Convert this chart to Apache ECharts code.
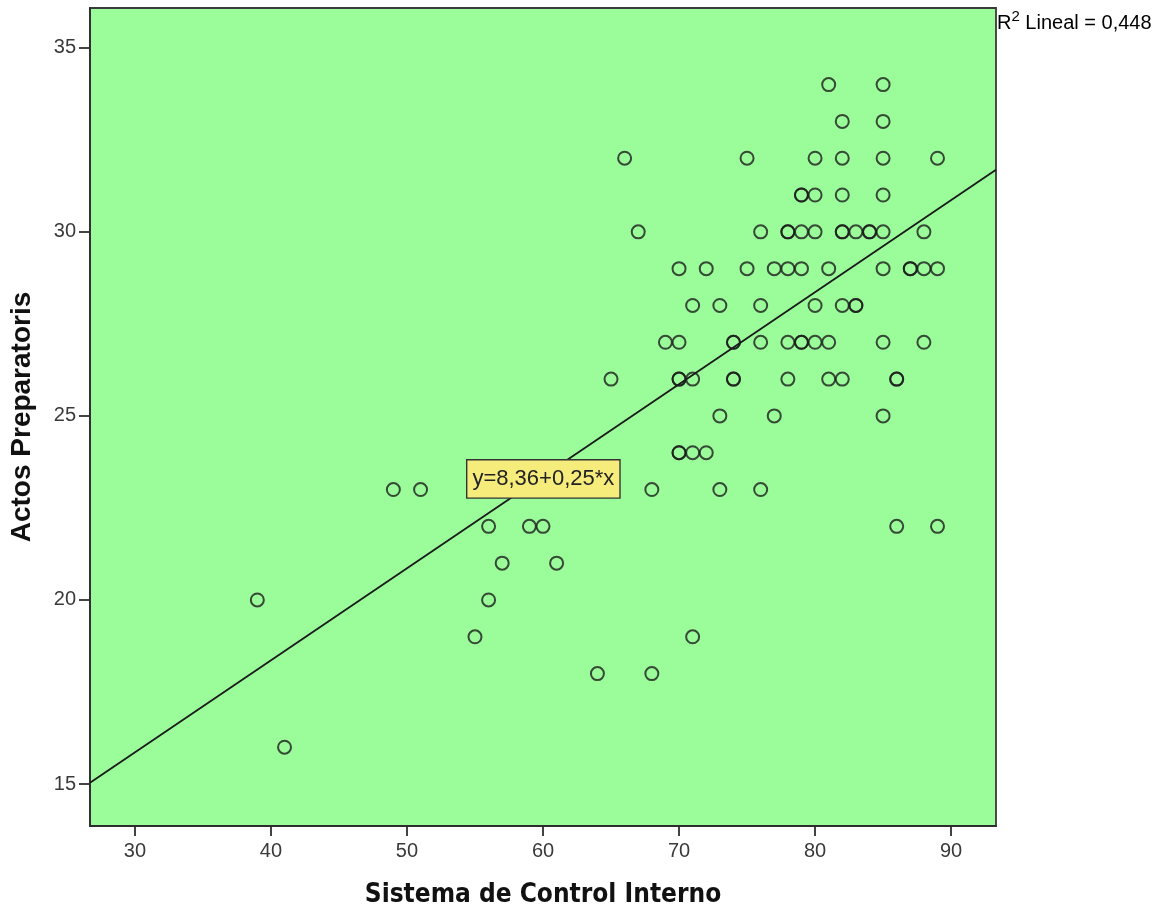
<!DOCTYPE html>
<html>
<head>
<meta charset="utf-8">
<title>Actos Preparatoris vs Sistema de Control Interno</title>
<script src="https://cdn.jsdelivr.net/npm/echarts@6/dist/echarts.min.js"></script>
<style>
  html, body { margin: 0; padding: 0; background: #ffffff; }
  #chart { width: 1163px; height: 913px; }
</style>
</head>
<body>
<div id="chart"></div>
<script>
// Observations: Sistema de Control Interno (x) and Actos Preparatoris (y)
const controlInterno = [
  81, 85,
  82, 85,
  66, 75, 80, 82, 85, 89,
  79, 79, 80, 82, 85,
  67, 76, 78, 78, 79, 80, 82, 82, 83, 84, 84, 85, 88,
  70, 72, 75, 77, 78, 79, 81, 85, 87, 87, 88, 89,
  71, 73, 76, 80, 82, 83, 83,
  69, 70, 74, 74, 76, 78, 79, 79, 80, 81, 85, 88,
  65, 70, 70, 71, 74, 74, 78, 81, 82, 86, 86,
  73, 77, 85,
  70, 70, 71, 72,
  49, 51, 59, 68, 73, 76,
  56, 59, 60, 86, 89,
  57, 61,
  39, 56,
  55, 71,
  64, 68,
  41
];
const actosPreparatoris = [
  34, 34,
  33, 33,
  32, 32, 32, 32, 32, 32,
  31, 31, 31, 31, 31,
  30, 30, 30, 30, 30, 30, 30, 30, 30, 30, 30, 30, 30,
  29, 29, 29, 29, 29, 29, 29, 29, 29, 29, 29, 29,
  28, 28, 28, 28, 28, 28, 28,
  27, 27, 27, 27, 27, 27, 27, 27, 27, 27, 27, 27,
  26, 26, 26, 26, 26, 26, 26, 26, 26, 26, 26,
  25, 25, 25,
  24, 24, 24, 24,
  23, 23, 23, 23, 23, 23,
  22, 22, 22, 22, 22,
  21, 21,
  20, 20,
  19, 19,
  18, 18,
  16
];

// Linear fit as reported: y = 8,36 + 0,25*x ; R² = 0,448
const intercept = 8.36;
const slope = 0.25;
const rSquared = '0,448';

const xTicks = [30, 40, 50, 60, 70, 80, 90];
const yTicks = [15, 20, 25, 30, 35];
const xRange = [26.7, 93.3];
const yRange = [13.86, 36.08];

const points = controlInterno.map((x, i) => [x, actosPreparatoris[i]]);
const fitLine = xRange.map(x => [x, intercept + slope * x]);
const fmt = v => v.toFixed(2).replace('.', ',');
const equationText = 'y=' + fmt(intercept) + '+' + fmt(slope) + '*x';

const chart = echarts.init(document.getElementById('chart'), null, { renderer: 'canvas' });

const axisColor = '#2e2e2e';
const tickFont = { fontFamily: '"Liberation Sans", Arial, sans-serif', fontSize: 20, color: '#3a3a3a' };

chart.setOption({
  animation: false,
  backgroundColor: '#ffffff',
  grid: {
    left: 90, right: 167, top: 8, bottom: 85,
    show: true,
    backgroundColor: '#9afd9a',
    borderColor: '#3a3a3a',
    borderWidth: 1.8
  },
  xAxis: {
    type: 'value',
    min: xRange[0], max: xRange[1],
    name: 'Sistema de Control Interno',
    nameLocation: 'middle',
    nameGap: 56,
    nameTextStyle: {
      fontFamily: '"DejaVu Sans Condensed", "DejaVu Sans", sans-serif',
      fontWeight: 'bold', fontSize: 26, color: '#111111'
    },
    splitLine: { show: false },
    axisLine: { show: true, lineStyle: { color: axisColor, width: 1.8 } },
    axisTick: { show: true, inside: false, length: 10, lineStyle: { color: axisColor, width: 1.8 }, customValues: xTicks },
    axisLabel: Object.assign({ margin: 15, customValues: xTicks }, tickFont)
  },
  yAxis: {
    type: 'value',
    min: yRange[0], max: yRange[1],
    name: 'Actos Preparatoris',
    nameLocation: 'middle',
    nameGap: 54,
    nameTextStyle: {
      fontFamily: '"Liberation Sans", Arial, sans-serif',
      fontWeight: 'bold', fontSize: 28, color: '#111111'
    },
    splitLine: { show: false },
    axisLine: { show: true, lineStyle: { color: axisColor, width: 1.8 } },
    axisTick: { show: true, inside: false, length: 11, lineStyle: { color: axisColor, width: 1.8 }, customValues: yTicks },
    axisLabel: Object.assign({ margin: 14, customValues: yTicks }, tickFont)
  },
  series: [
    {
      type: 'line',
      data: fitLine,
      symbol: 'none',
      silent: true,
      z: 3,
      lineStyle: { color: '#1a1a1a', width: 1.8 }
    },
    {
      type: 'scatter',
      data: points,
      symbol: 'circle',
      symbolSize: 13,
      z: 4,
      itemStyle: { color: 'rgba(0,0,0,0)', borderColor: '#1c1c1c', borderWidth: 2 }
    }
  ],
  graphic: [
    {
      type: 'text',
      left: 997,
      top: 9,
      z: 10,
      style: {
        rich: {
          r: { fontFamily: '"Liberation Sans", Arial, sans-serif', fontSize: 20, color: '#111111', verticalAlign: 'bottom', lineHeight: 24 },
          sup: { fontFamily: '"Liberation Sans", Arial, sans-serif', fontSize: 15, color: '#111111', verticalAlign: 'top', lineHeight: 24 }
        },
        text: '{r|R}{sup|2}{r| Lineal = ' + rSquared + '}'
      }
    },
    {
      type: 'text',
      left: 466,
      top: 459,
      z: 10,
      style: {
        text: equationText,
        fontFamily: '"Liberation Sans", Arial, sans-serif',
        fontSize: 22,
        fill: '#222222',
        backgroundColor: '#f6ec7c',
        borderColor: '#333333',
        borderWidth: 1.4,
        padding: [7, 5, 6, 5],
        lineHeight: 24
      }
    }
  ]
});
</script>
</body>
</html>
